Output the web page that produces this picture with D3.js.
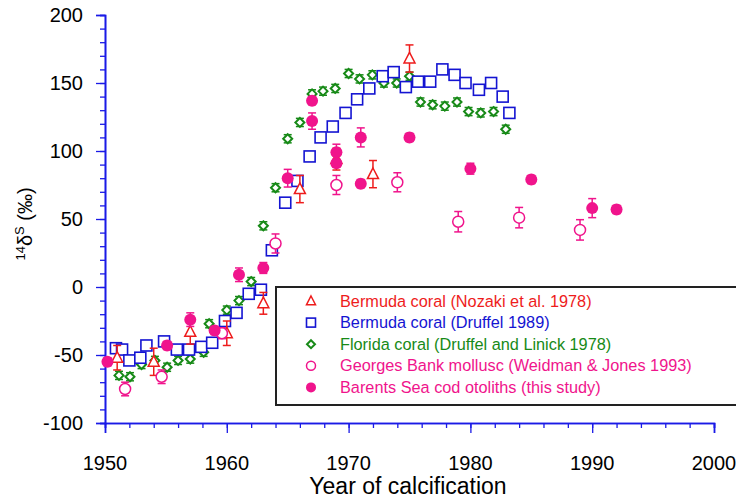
<!DOCTYPE html>
<meta charset="utf-8">
<title>14C record</title>
<style>
body { margin: 0; background: #fff; }
svg { font-family: Arial, "Liberation Sans", sans-serif; }
</style>
<body>
<script src="https://cdn.jsdelivr.net/npm/d3@7"></script>
<script>
'use strict';

// Bermuda coral (Nozaki et al. 1978): year, value, error
const nozaki = [[1951, -52, 9], [1954, -55, 10], [1957, -33, 9], [1960, -34, 9], [1963, -12, 8],
  [1966, 72, 10], [1969, 94, 8], [1972, 83, 10], [1975, 168, 10]];
// Bermuda coral (Druffel 1989)
const druffel = [[1950.9, -45], [1951.4, -46], [1952, -54], [1952.9, -52], [1953.4, -43], [1954.85, -40],
  [1955.9, -46], [1956.9, -46], [1957.9, -44], [1958.8, -41], [1959.85, -25], [1960.8, -19], [1961.8, -5],
  [1962.8, -2], [1963.7, 27], [1964.8, 62], [1965.8, 78], [1966.8, 96], [1967.7, 110], [1968.7, 118],
  [1969.75, 128], [1970.7, 138], [1971.7, 146], [1972.8, 155], [1973.7, 158], [1974.7, 147], [1975.7, 151],
  [1976.7, 151], [1977.7, 160], [1978.7, 156], [1979.6, 150], [1980.7, 145], [1981.7, 150], [1982.65, 140],
  [1983.2, 128]];
// Florida coral (Druffel and Linick 1978)
const florida = [[1951.15, -65], [1952.05, -66], [1953, -57], [1954.1, -54], [1955.1, -59], [1956, -54],
  [1957, -53], [1958.1, -48], [1958.55, -27], [1960, -17], [1961, -10], [1962, 4], [1963, 45], [1964, 73],
  [1965, 109], [1966, 121], [1967, 142], [1967.9, 144], [1968.9, 146], [1970, 157], [1970.9, 153],
  [1971.95, 156], [1972.9, 150], [1973.95, 150], [1975, 155], [1975.9, 136], [1976.9, 134], [1977.9, 133],
  [1978.9, 136], [1979.85, 129], [1980.85, 128], [1981.9, 129], [1982.9, 116]];
// Georges Bank mollusc (Weidman & Jones 1993)
const georges = [[1951.65, -75, 5], [1954.65, -66, 5], [1959.6, -34, 4], [1964, 32, 7], [1969, 75, 7],
  [1974, 77, 7], [1979, 48, 7.5], [1984, 51, 7.5], [1989, 42, 7.5]];
// Barents Sea cod otoliths (this study)
const barents = [[1950.2, -55, 3], [1955.1, -43, 3], [1957, -24, 5], [1959, -32, 3], [1961, 9, 5],
  [1963, 14, 4], [1965, 80, 6.5], [1967, 122, 6], [1967, 137, 3], [1969, 99, 6], [1969, 91, 3],
  [1971, 110, 7], [1971, 76, 3], [1975, 110, 3], [1980, 87, 4], [1985, 79, 3], [1990, 58, 7], [1992, 57, 3]];

const legendLabels = ["Bermuda coral (Nozaki et al. 1978)", "Bermuda coral (Druffel 1989)",
  "Florida coral (Druffel and Linick 1978)", "Georges Bank mollusc (Weidman & Jones 1993)",
  "Barents Sea cod otoliths (this study)"];
const xTicks = [1950, 1960, 1970, 1980, 1990, 2000];
const yTicks = [-100, -50, 0, 50, 100, 150, 200];

const red = "#ee1c1c", blue = "#1414d2", green = "#178a17", pink = "#f0148c", axisBlue = "#1a1ae6";

const svg = d3.select("body").append("svg").attr("width", 736).attr("height", 500);
const x = d3.scaleLinear().domain([1950, 2000]).range([105, 714]);
const y = d3.scaleLinear().domain([-100, 200]).range([423, 15]);

// axes
const xAxis = svg.append("g").attr("transform", `translate(0,${y(-100)})`);
xAxis.call(d3.axisBottom(x).tickValues(d3.range(1950, 2001, 2)).tickSize(5).tickFormat(""));
xAxis.append("g").call(d3.axisBottom(x).tickValues(xTicks).tickSize(10).tickFormat(""));
const yAxis = svg.append("g").attr("transform", `translate(${x(1950)},0)`);
yAxis.call(d3.axisLeft(y).tickValues(d3.range(-100, 201, 10)).tickSize(5).tickFormat(""));
yAxis.append("g").call(d3.axisLeft(y).tickValues(yTicks).tickSize(9).tickFormat(""));
svg.selectAll(".domain").attr("stroke", axisBlue).attr("stroke-width", 1.6);
svg.selectAll(".tick line").attr("stroke", axisBlue).attr("stroke-width", 1.3);
xAxis.select("g").select(".domain").remove();
yAxis.select("g").select(".domain").remove();

svg.append("g").selectAll("text").data(xTicks).join("text")
  .attr("x", d => x(d)).attr("y", 470).attr("text-anchor", "middle")
  .attr("font-size", 20).text(d => d);
svg.append("g").selectAll("text").data(yTicks).join("text")
  .attr("x", 83).attr("y", d => y(d) + 7).attr("text-anchor", "end")
  .attr("font-size", 20).text(d => d);

svg.append("text").attr("x", 408).attr("y", 494).attr("text-anchor", "middle")
  .attr("font-size", 23).text("Year of calcification");

const yl = svg.append("text").attr("transform", "translate(32,224) rotate(-90)")
  .attr("text-anchor", "middle").attr("font-size", 20);
yl.append("tspan").attr("font-size", 13).attr("dy", -7).text("14");
yl.append("tspan").attr("dy", 7).text("δ");
yl.append("tspan").attr("font-size", 13).attr("dy", -8).text("S");
yl.append("tspan").attr("dy", 8).text(" (‰)");

// symbols
function drawSym(g, type, cx, cy, s, col) {
  if (type === "tri") {
    const h = s * 0.9;
    g.append("path").attr("d", `M${cx},${cy - h * 0.62}L${cx + s / 2},${cy + h * 0.45}L${cx - s / 2},${cy + h * 0.45}Z`)
      .attr("fill", "#fff").attr("stroke", col).attr("stroke-width", 1.5);
  } else if (type === "sq") {
    g.append("rect").attr("x", cx - s / 2).attr("y", cy - s / 2).attr("width", s).attr("height", s)
      .attr("fill", "#fff").attr("stroke", col).attr("stroke-width", 1.6);
  } else if (type === "dia") {
    const r = s / 2;
    g.append("path").attr("d", `M${cx},${cy - r}L${cx + r},${cy}L${cx},${cy + r}L${cx - r},${cy}Z`)
      .attr("fill", "#fff").attr("stroke", col).attr("stroke-width", 2);
  } else if (type === "open") {
    g.append("circle").attr("cx", cx).attr("cy", cy).attr("r", s / 2)
      .attr("fill", "#fff").attr("stroke", col).attr("stroke-width", 1.5);
  } else {
    g.append("circle").attr("cx", cx).attr("cy", cy).attr("r", s / 2).attr("fill", col);
  }
}

function errBars(data, col) {
  const g = svg.append("g").attr("stroke", col).attr("stroke-width", 1.5);
  data.forEach(d => {
    const e = d[2] || 0;
    if (!e) return;
    const cx = x(d[0]), t = y(d[1] + e), b = y(d[1] - e);
    g.append("line").attr("x1", cx).attr("x2", cx).attr("y1", t).attr("y2", b);
    g.append("line").attr("x1", cx - 4).attr("x2", cx + 4).attr("y1", t).attr("y2", t);
    g.append("line").attr("x1", cx - 4).attr("x2", cx + 4).attr("y1", b).attr("y2", b);
  });
}

function series(data, type, s, col) {
  const g = svg.append("g");
  data.forEach(d => drawSym(g, type, x(d[0]), y(d[1]), s, col));
}

errBars(florida.map(d => [d[0], d[1], 3]), green);
series(florida, "dia", 9, green);
errBars(druffel, blue);
series(druffel, "sq", 11, blue);
errBars(nozaki, red);
series(nozaki, "tri", 11, red);
errBars(georges, pink);
series(georges, "open", 11, pink);
errBars(barents, pink);
series(barents, "fill", 12, pink);

// legend
const lg = svg.append("g");
lg.append("rect").attr("x", 276).attr("y", 287).attr("width", 470).attr("height", 118)
  .attr("fill", "#fff").attr("stroke", "#222").attr("stroke-width", 2);
const legendTypes = [["tri", 9, red], ["sq", 9, blue], ["dia", 8, green], ["open", 9, pink], ["fill", 10, pink]];
legendLabels.forEach((t, i) => {
  const cy = 301 + i * 21.6;
  const [type, s, col] = legendTypes[i];
  drawSym(lg, type, 311, cy, s, col);
  lg.append("text").attr("x", 340).attr("y", cy + 5.5).attr("font-size", 16.3).attr("fill", col).text(t);
});
</script>
</body>
